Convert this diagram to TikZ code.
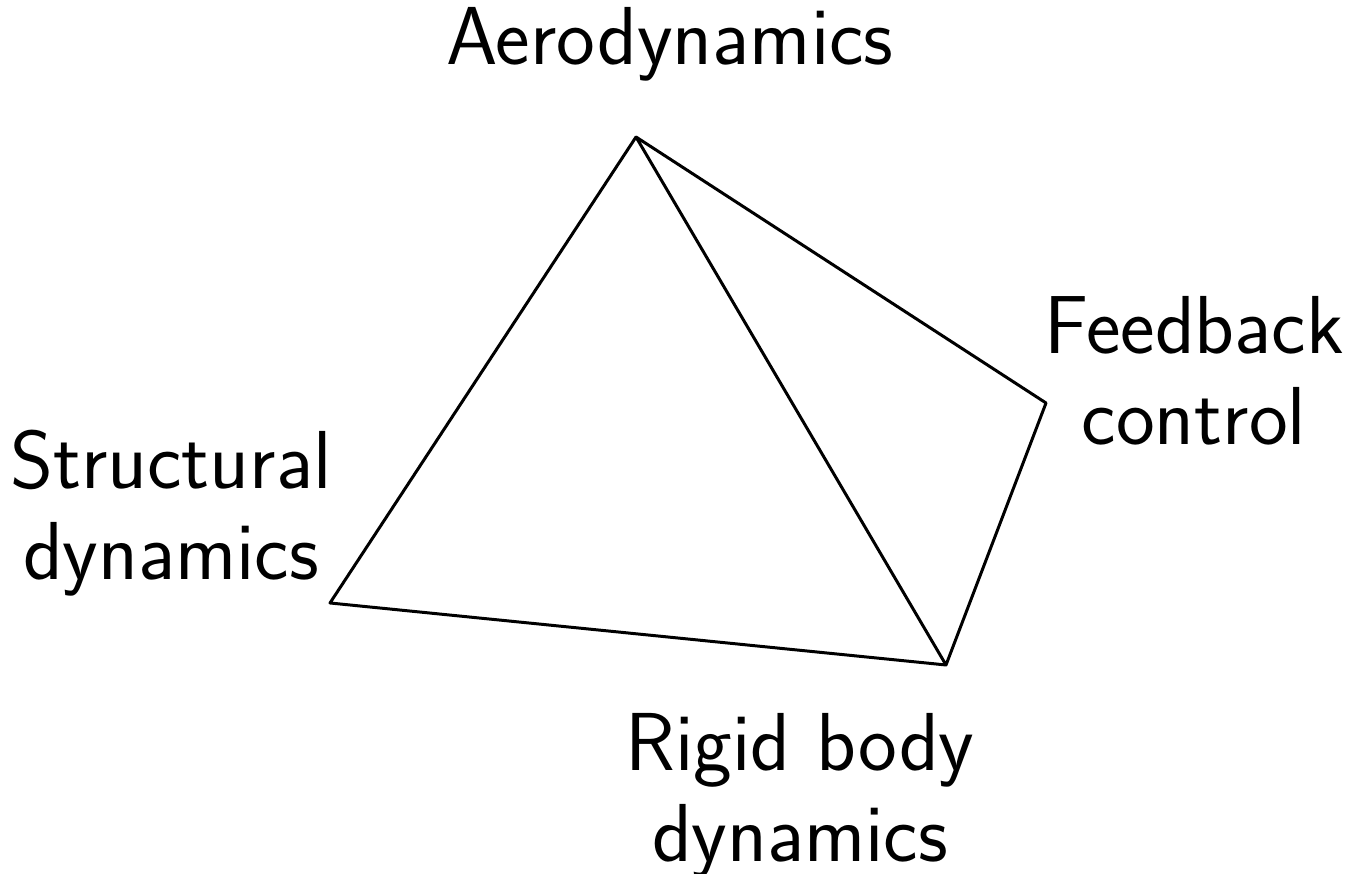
\documentclass[tikz,border=0pt]{standalone}

\begin{document}
\begin{tikzpicture}[
    x=0.01cm,y=0.01cm,
    line cap=round,
    line join=round,
    lbl/.style={font=\sffamily\fontsize{23.4}{25.8}\selectfont,align=center,inner sep=0pt},
]
\useasboundingbox (0,0) rectangle (1367,874);
% corners of the tetrahedron
\coordinate (aero) at (636,737);
\coordinate (feedback) at (1046,471);
\coordinate (rigid) at (946,209);
\coordinate (structural) at (330,271);
% edges
\draw[line width=0.85pt] (aero) -- (structural) -- (rigid) -- (feedback) -- (aero) -- (rigid);
% labels
\node[lbl,anchor=base] (aerolabel) at (670,809) {Aerodynamics};
\node[lbl] (feedbacklabel) at (1194,503) {Feedback\\control};
\node[lbl] (structurallabel) at (171,361) {Structural\\dynamics};
\node[lbl] (rigidlabel) at (800,78) {Rigid body\\dynamics};
\end{tikzpicture}
\end{document}
